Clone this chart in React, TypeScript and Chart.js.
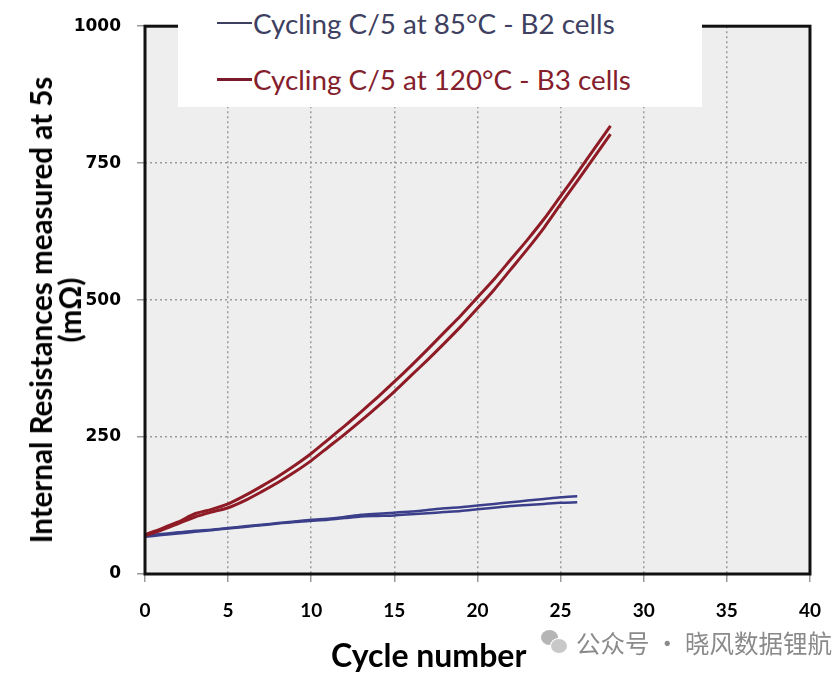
import React, { useEffect, useRef } from "react";
import { Chart, registerables } from "chart.js";

Chart.register(...registerables);

const cyclesB3 = [0, 1, 2, 3, 4, 5, 6, 7, 8, 9, 10, 11, 12, 13, 14, 15, 16, 17, 18, 19, 20, 21, 22, 23, 24, 25, 26, 27, 28];
const cyclesB2 = [0, 1, 2, 3, 4, 5, 6, 7, 8, 9, 10, 11, 12, 13, 14, 15, 16, 17, 18, 19, 20, 21, 22, 23, 24, 25, 26];

const b3CellA = [72, 83, 95, 110, 118, 128, 143, 160, 178, 198, 220, 245, 270, 296, 323, 351, 380, 410, 441, 472, 505, 538, 574, 610, 648, 690, 732, 775, 818];
const b3CellB = [70, 80, 92, 104, 113, 121, 134, 150, 167, 186, 207, 231, 255, 280, 306, 333, 362, 391, 421, 452, 485, 519, 556, 593, 632, 675, 717, 760, 803];

const b2CellA = [70, 73, 76, 79, 81, 84, 87, 90, 93, 96, 99, 101, 104, 108, 110, 112, 114, 117, 120, 122, 125, 128, 131, 134, 137, 140, 142];
const b2CellB = [68, 71, 74, 77, 80, 83, 86, 89, 92, 95, 97, 99, 102, 105, 106, 107, 109, 111, 113, 115, 118, 121, 124, 126, 128, 130, 131];

const xTicks = [0, 5, 10, 15, 20, 25, 30, 35, 40];
const yTicks = [0, 250, 500, 750, 1000];

const legendLabels = ["Cycling C/5 at 85°C - B2 cells", "Cycling C/5 at 120°C - B3 cells"];
const xTitle = "Cycle number";
const yTitle = ["Internal Resistances measured at 5s", "(mΩ)"];
const watermark = "公众号 · 晓风数据锂航";

const RED = "#8e1b25";
const BLUE = "#3b3f8a";

const zip = (xs: number[], ys: number[]) => xs.map((x, i) => ({ x, y: ys[i] }));

const plotFrame = {
  id: "plotFrame",
  beforeDraw(chart: any) {
    const { ctx, chartArea } = chart;
    ctx.save();
    ctx.fillStyle = "#eeeeee";
    ctx.fillRect(chartArea.left, chartArea.top, chartArea.right - chartArea.left, chartArea.bottom - chartArea.top);
    ctx.restore();
  },
  afterDraw(chart: any) {
    const { ctx, chartArea } = chart;
    ctx.save();
    ctx.strokeStyle = "#111111";
    ctx.lineWidth = 3;
    ctx.strokeRect(chartArea.left, chartArea.top, chartArea.right - chartArea.left, chartArea.bottom - chartArea.top);
    ctx.restore();
  },
};

export default function App() {
  const ref = useRef<HTMLCanvasElement | null>(null);

  useEffect(() => {
    if (!ref.current) return;
    const line = (data: any[], color: string, w: number) => ({
      data,
      borderColor: color,
      backgroundColor: color,
      borderWidth: w,
      pointRadius: 0,
      tension: 0.25,
      fill: false,
    });
    const chart = new Chart(ref.current, {
      type: "line",
      data: {
        datasets: [
          line(zip(cyclesB3, b3CellA), RED, 3),
          line(zip(cyclesB3, b3CellB), RED, 3),
          line(zip(cyclesB2, b2CellA), BLUE, 2.5),
          line(zip(cyclesB2, b2CellB), BLUE, 2.5),
        ],
      },
      options: {
        animation: false,
        responsive: true,
        maintainAspectRatio: false,
        layout: { padding: { top: 22, right: 21, left: 0, bottom: 0 } },
        plugins: { legend: { display: false }, tooltip: { enabled: false } },
        scales: {
          x: {
            type: "linear",
            min: 0,
            max: 40,
            afterBuildTicks: (s: any) => {
              s.ticks = xTicks.map((v) => ({ value: v }));
            },
            afterFit: (s: any) => {
              s.height = 105;
            },
            ticks: {
              color: "#000",
              padding: 17,
              callback: (v: any) => String(v),
              font: { family: "Lato", weight: "bold", size: 19 },
            },
            grid: {
              color: "#9a9a9a",
              lineWidth: 1.5,
              tickLength: 8,
              tickColor: "#999",
              drawOnChartArea: true,
            },
            border: { display: false, dash: [2, 3] },
            title: { display: false },
          },
          y: {
            type: "linear",
            min: 0,
            max: 1000,
            afterBuildTicks: (s: any) => {
              s.ticks = yTicks.map((v) => ({ value: v }));
            },
            afterFit: (s: any) => {
              s.width = 145;
            },
            ticks: {
              color: "#000",
              padding: 16,
              callback: (v: any) => String(v),
              font: { family: "DejaVu Sans", weight: "bold", size: 17 },
            },
            grid: {
              color: "#9a9a9a",
              lineWidth: 1.5,
              tickLength: 8,
              tickColor: "#999",
            },
            border: { display: false, dash: [2, 3] },
            title: { display: false },
          },
        },
      },
      plugins: [plotFrame],
    });
    return () => chart.destroy();
  }, []);

  return (
    <div style={{ position: "fixed", left: 0, top: 0, width: 838, height: 679, background: "#fff", overflow: "hidden" }}>
      <canvas ref={ref} style={{ position: "absolute", left: 0, top: 0 }} />
      <div
        style={{
          position: "absolute",
          left: 55,
          top: 310,
          transform: "translate(-50%, -50%) rotate(-90deg)",
          fontFamily: "Lato, sans-serif",
          fontWeight: "bold",
          fontSize: 29.5,
          lineHeight: "29px",
          textAlign: "center",
          whiteSpace: "nowrap",
          color: "#000",
        }}
      >
        {yTitle.map((t, i) => (
          <div key={i}>{t}</div>
        ))}
      </div>
      <div
        style={{
          position: "absolute",
          left: 178,
          top: 0,
          width: 524,
          height: 107,
          background: "#fff",
          fontFamily: "Lato, sans-serif",
          fontSize: 27.8,
        }}
      >
        {[BLUE, RED].map((c, i) => (
          <div
            key={i}
            style={{
              position: "absolute",
              left: 39,
              top: i === 0 ? 5 : 61,
              height: 36,
              display: "flex",
              alignItems: "center",
              whiteSpace: "nowrap",
              color: i === 0 ? "#3d4060" : "#84202c",
            }}
          >
            <span style={{ display: "inline-block", width: 35, height: i === 0 ? 2 : 3, background: i === 0 ? "#3d4060" : "#7a1a2a", marginRight: 1 }} />
            <span>{legendLabels[i]}</span>
          </div>
        ))}
      </div>
      <div
        style={{
          position: "absolute",
          left: 331,
          top: 636,
          fontFamily: "Lato, sans-serif",
          fontWeight: "bold",
          fontSize: 32,
          lineHeight: "38px",
          color: "#000",
          whiteSpace: "nowrap",
        }}
      >
        {xTitle}
      </div>
      <div style={{ position: "absolute", left: 541, top: 630, width: 26, height: 26 }}>
        <div style={{ position: "absolute", left: 0, top: 0, width: 17, height: 15, borderRadius: "50%", background: "#b5b5b5" }} />
        <div style={{ position: "absolute", left: 9, top: 8, width: 16, height: 14, borderRadius: "50%", background: "#c8c8c8", border: "1px solid #fff" }} />
      </div>
      <div
        style={{
          position: "absolute",
          left: 576,
          top: 626,
          fontFamily: "'Noto Sans CJK SC', sans-serif",
          fontSize: 24.5,
          lineHeight: "34px",
          color: "#8a8a8a",
          whiteSpace: "nowrap",
        }}
      >
        {watermark}
      </div>
    </div>
  );
}
